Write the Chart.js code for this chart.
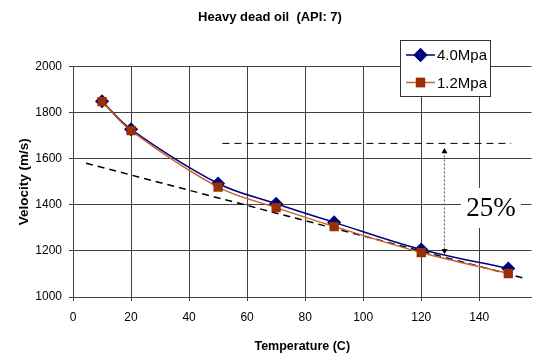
<!DOCTYPE html>
<html>
<head>
<meta charset="utf-8">
<script src="https://cdn.jsdelivr.net/npm/chart.js@4/dist/chart.umd.min.js"></script>
<style>
  html, body { margin: 0; padding: 0; background: #fff; }
  #wrap { width: 539px; height: 354px; }
</style>
</head>
<body>
<div id="wrap"><canvas id="velChart" width="539" height="354"></canvas></div>
<script>
// temperatures (C) and velocities (m/s)
const temps = [10, 20, 50, 70, 90, 120, 150];
const vel40 = [1850, 1728, 1493, 1405, 1324, 1206, 1124];
const vel12 = [1848, 1722, 1477, 1388, 1306, 1193, 1102];

// dashed trend line and the upper reference line
const trendX = [4.5, 156];
const trendY = [1581, 1080];
const refX = [51.5, 151];
const refY = [1667, 1667];

// the 25% arrow and its label
const arrowX = [128, 128];
const arrowY = [1632, 1201];
const noteText = '25%';
const noteX = 144;
const noteY = 1387;

const xTicks = [0, 20, 40, 60, 80, 100, 120, 140];
const yTicks = [1000, 1200, 1400, 1600, 1800, 2000];

function pts(xs, ys) {
    return xs.map(function(x, i){ return {x: x, y: ys[i]}; });
}

const FONT = "'Liberation Sans', Arial, sans-serif";

const navy = '#000080';
const rust = '#9a3000';
const rustLine = '#c8642e';

const extras = {
    id: 'extras',
    beforeDatasetsDraw(chart) {
        const ctx = chart.ctx;
        const x = chart.scales.x.getPixelForValue(noteX);
        const y = chart.scales.y.getPixelForValue(noteY);
        ctx.save();
        ctx.fillStyle = '#fff';
        ctx.fillRect(x - 30, y - 20, 60, 40);
        ctx.fillStyle = '#000';
        ctx.font = "27px 'Liberation Serif', 'Times New Roman', serif";
        ctx.textAlign = 'center';
        ctx.textBaseline = 'middle';
        ctx.fillText(noteText, x, y + 1);
        ctx.restore();
    },
    afterDraw(chart) {
        // legend box, top right, partly over the plot
        const ctx = chart.ctx;
        const bx = 400, by = 40, bw = 90, bh = 56;
        ctx.save();
        ctx.fillStyle = '#fff';
        ctx.fillRect(bx, by, bw, bh);
        ctx.strokeStyle = '#333';
        ctx.lineWidth = 1;
        ctx.strokeRect(bx + 0.5, by + 0.5, bw, bh);
        const items = [chart.data.datasets[0], chart.data.datasets[1]];
        items.forEach(function(ds, i){
            const cy = by + 15 + i * 27.5;
            ctx.strokeStyle = ds.borderColor;
            ctx.lineWidth = 1.5;
            ctx.beginPath();
            ctx.moveTo(bx + 6, cy);
            ctx.lineTo(bx + 35, cy);
            ctx.stroke();
            Chart.helpers.drawPoint(ctx, {
                pointStyle: ds.pointStyle, radius: ds.pointRadius,
                rotation: 0, borderWidth: 1
            }, bx + 20.5, cy);
            ctx.fillStyle = ds.pointBackgroundColor;
            ctx.strokeStyle = ds.pointBorderColor;
            ctx.fill();
            ctx.stroke();
            ctx.fillStyle = '#000';
            ctx.font = '15px ' + FONT;
            ctx.textAlign = 'left';
            ctx.textBaseline = 'middle';
            ctx.fillText(ds.label, bx + 37, cy + 1);
        });
        ctx.restore();
    }
};

const data = {
    datasets: [{
        label: '4.0Mpa',
        data: pts(temps, vel40),
        borderColor: navy,
        borderWidth: 1.5,
        pointStyle: 'rectRot',
        pointRadius: 6,
        pointBackgroundColor: navy,
        pointBorderColor: navy,
        tension: 0.35,
        order: 2
    }, {
        label: '1.2Mpa',
        data: pts(temps, vel12),
        borderColor: rustLine,
        borderWidth: 1.5,
        pointStyle: 'rect',
        pointRadius: 5.5,
        pointBackgroundColor: rust,
        pointBorderColor: rust,
        tension: 0.35,
        order: 1
    }, {
        label: 'trend',
        data: pts(trendX, trendY),
        borderColor: '#000',
        borderWidth: 1.5,
        borderDash: [7, 5],
        pointRadius: 0,
        order: 3
    }, {
        label: 'ref',
        data: pts(refX, refY),
        borderColor: '#000',
        borderWidth: 1,
        borderDash: [7, 5],
        pointRadius: 0,
        order: 4
    }, {
        label: 'arrow',
        data: pts(arrowX, arrowY),
        borderColor: '#666',
        borderWidth: 1.2,
        borderDash: [2, 2],
        pointStyle: 'triangle',
        pointRotation: [0, 180],
        pointRadius: 3.5,
        pointBackgroundColor: '#000',
        pointBorderColor: '#000',
        pointBorderWidth: 0,
        order: 5
    }]
};

const config = {
    type: 'line',
    data,
    plugins: [extras],
    options: {
        responsive: false,
        animation: false,
        layout: { padding: { left: 1, right: 0, top: 0, bottom: 0 } },
        scales: {
            x: {
                type: 'linear',
                min: 0,
                max: 158,
                afterBuildTicks: function(scale) {
                    scale.ticks = xTicks.map(function(v){ return {value: v}; });
                },
                afterFit: function(scale) { scale.height = 57; },
                grid: { color: '#404040', lineWidth: 1, tickLength: 4 },
                border: { display: true, color: '#404040', width: 1 },
                ticks: {
                    padding: 9,
                    color: '#000',
                    font: { family: FONT, size: 12 },
                    maxRotation: 0,
                    callback: function(value) { return String(value); }
                },
                title: {
                    display: true,
                    text: 'Temperature (C)',
                    color: '#000',
                    font: { family: FONT, size: 12.5, weight: 'bold' },
                    padding: 0
                }
            },
            y: {
                min: 1000,
                max: 2000,
                afterBuildTicks: function(scale) {
                    scale.ticks = yTicks.map(function(v){ return {value: v}; });
                },
                afterFit: function(scale) { scale.width = 72; },
                grid: { color: '#404040', lineWidth: 1, tickLength: 4 },
                border: { display: true, color: '#404040', width: 1 },
                ticks: {
                    padding: 7,
                    color: '#000',
                    font: { family: FONT, size: 12 },
                    callback: function(value) { return String(value); }
                },
                title: {
                    display: true,
                    text: 'Velocity (m/s)',
                    color: '#000',
                    font: { family: FONT, size: 13.5, weight: 'bold' },
                    padding: { top: 15, bottom: 0 }
                }
            }
        },
        plugins: {
            legend: { display: false },
            tooltip: { enabled: false },
            title: {
                display: true,
                text: 'Heavy dead oil  (API: 7)',
                color: '#000',
                font: { family: FONT, size: 13, weight: 'bold' },
                padding: { top: 10, bottom: 41.1 }
            }
        }
    }
};

const myChart = new Chart(document.getElementById('velChart'), config);
</script>
</body>
</html>
